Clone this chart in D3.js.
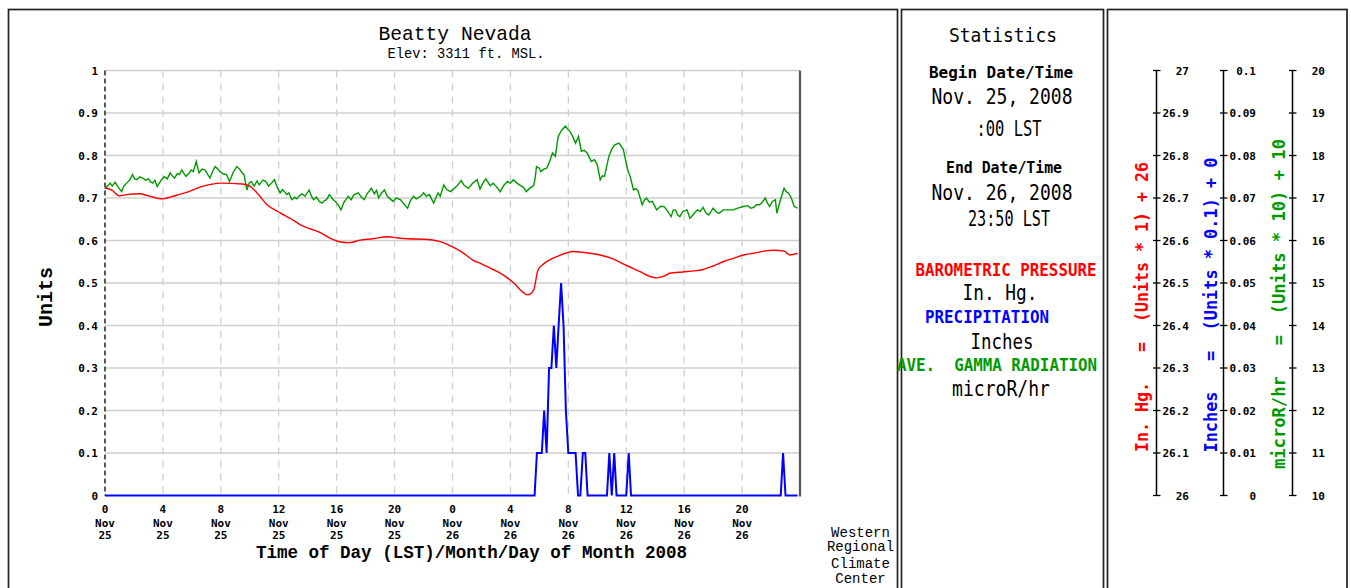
<!DOCTYPE html>
<html><head><meta charset="utf-8">
<script src="https://cdn.jsdelivr.net/npm/d3@7"></script>
<style>html,body{margin:0;padding:0;background:#fff;}svg{display:block;}</style>
</head><body>
<svg id="c" width="1351" height="588"></svg>
<script>
// ---------- DATA ----------
const xTickHours = [0,4,8,12,16,20,24,28,32,36,40,44];
const xTickHourLabels = ["0","4","8","12","16","20","0","4","8","12","16","20"];
const xTickMonthLabels = ["Nov","Nov","Nov","Nov","Nov","Nov","Nov","Nov","Nov","Nov","Nov","Nov"];
const xTickDayLabels = ["25","25","25","25","25","25","26","26","26","26","26","26"];
const yTicks = [0,0.1,0.2,0.3,0.4,0.5,0.6,0.7,0.8,0.9,1];
const yTickLabels = ["0","0.1","0.2","0.3","0.4","0.5","0.6","0.7","0.8","0.9","1"];
const pressureTickLabels = ["26","26.1","26.2","26.3","26.4","26.5","26.6","26.7","26.8","26.9","27"];
const precipTickLabels = ["0","0.01","0.02","0.03","0.04","0.05","0.06","0.07","0.08","0.09","0.1"];
const gammaTickLabels = ["10","11","12","13","14","15","16","17","18","19","20"];

// Barometric pressure, Units (= In. Hg. - 26): [hour since Nov 25 00:00, value]
const pressure = [[0,0.724],[0.5,0.718],[1,0.705],[1.5,0.708],[2.4,0.71],[3,0.705],[4,0.698],[4.5,0.702],[5,0.707],[5.8,0.715],[6.6,0.726],[7.3,0.732],[8,0.735],[9.5,0.733],[10,0.728],[10.5,0.712],[11.2,0.684],[12.1,0.665],[12.8,0.652],[13.5,0.637],[14.2,0.627],[14.9,0.618],[15.5,0.606],[16.2,0.597],[16.9,0.595],[17.6,0.601],[18.5,0.604],[19.5,0.609],[20.2,0.606],[20.9,0.604],[22,0.603],[23.1,0.598],[24,0.585],[24.6,0.574],[25.4,0.554],[26.0,0.545],[26.6,0.535],[27.2,0.525],[27.8,0.512],[28.3,0.498],[28.7,0.483],[29.2,0.472],[29.6,0.483],[29.9,0.53],[30.3,0.545],[30.7,0.554],[31.2,0.562],[31.8,0.57],[32.3,0.574],[32.8,0.573],[33.5,0.57],[34.2,0.566],[35,0.558],[35.6,0.548],[36.1,0.54],[37,0.526],[37.6,0.516],[38.1,0.512],[38.6,0.516],[39,0.523],[39.9,0.526],[40.5,0.528],[41.1,0.53],[42,0.54],[42.7,0.55],[43.4,0.558],[44.1,0.566],[44.8,0.57],[45.5,0.575],[46.2,0.577],[46.9,0.575],[47.3,0.566],[47.83,0.57]];

// Precipitation, Units (= Inches / 0.1)
const precip = [[0,0],[29.67,0],[29.83,0.1],[30.0,0.1],[30.17,0.1],[30.33,0.2],[30.5,0.1],[30.67,0.3],[30.83,0.3],[31.0,0.4],[31.17,0.3],[31.33,0.4],[31.5,0.5],[31.67,0.4],[31.83,0.2],[32.0,0.1],[32.17,0.1],[32.33,0.1],[32.5,0.1],[32.67,0],[32.83,0],[33.0,0.1],[33.17,0.1],[33.33,0],[34.67,0],[34.83,0.1],[35.0,0],[35.17,0.1],[35.33,0],[36.0,0],[36.17,0.1],[36.33,0],[46.67,0],[46.83,0.1],[47.0,0],[47.83,0]];

// Ave. gamma radiation, Units (= (microR/hr - 10) / 10)
const gamma = [[0,0.722],[0.17,0.728],[0.35,0.735],[0.5,0.728],[0.7,0.737],[0.9,0.726],[1.15,0.715],[1.3,0.728],[1.5,0.735],[1.7,0.742],[1.9,0.755],[2.05,0.745],[2.2,0.743],[2.4,0.75],[2.6,0.747],[2.8,0.742],[3.0,0.745],[3.15,0.738],[3.3,0.735],[3.45,0.742],[3.6,0.727],[3.75,0.735],[3.9,0.743],[4.1,0.75],[4.3,0.745],[4.5,0.759],[4.65,0.752],[4.8,0.747],[5.0,0.758],[5.15,0.755],[5.3,0.766],[5.45,0.758],[5.6,0.751],[5.8,0.758],[5.95,0.766],[6.1,0.762],[6.3,0.786],[6.4,0.772],[6.5,0.759],[6.7,0.768],[6.9,0.766],[7.05,0.758],[7.25,0.747],[7.4,0.76],[7.6,0.774],[7.8,0.768],[7.95,0.762],[8.15,0.757],[8.4,0.755],[8.6,0.739],[8.85,0.76],[9.1,0.774],[9.3,0.768],[9.45,0.76],[9.6,0.755],[9.8,0.719],[9.95,0.735],[10.1,0.739],[10.3,0.728],[10.5,0.74],[10.65,0.731],[10.9,0.742],[11.1,0.739],[11.3,0.728],[11.5,0.735],[11.7,0.743],[11.9,0.725],[12.1,0.712],[12.25,0.72],[12.4,0.715],[12.55,0.708],[12.7,0.712],[12.9,0.696],[13.1,0.702],[13.25,0.698],[13.4,0.704],[13.6,0.71],[13.8,0.704],[14.1,0.719],[14.25,0.705],[14.4,0.696],[14.6,0.702],[14.8,0.692],[15.0,0.688],[15.15,0.694],[15.3,0.696],[15.5,0.708],[15.7,0.698],[15.9,0.692],[16.1,0.684],[16.3,0.672],[16.5,0.69],[16.8,0.704],[17.0,0.696],[17.2,0.708],[17.5,0.712],[17.7,0.702],[17.9,0.696],[18.1,0.71],[18.4,0.723],[18.6,0.71],[18.75,0.718],[18.9,0.70],[19.1,0.712],[19.3,0.719],[19.5,0.704],[19.7,0.698],[19.9,0.692],[20.1,0.70],[20.4,0.696],[20.6,0.688],[20.9,0.676],[21.1,0.694],[21.3,0.704],[21.5,0.698],[21.8,0.704],[22.0,0.712],[22.2,0.704],[22.4,0.708],[22.7,0.688],[22.85,0.70],[23.0,0.712],[23.15,0.704],[23.4,0.731],[23.6,0.72],[23.85,0.715],
[24.0,0.719],[24.3,0.728],[24.6,0.741],[24.8,0.73],[25.1,0.723],[25.4,0.735],[25.7,0.743],[25.9,0.721],[26.1,0.735],[26.3,0.745],[26.6,0.729],[26.8,0.735],[27.0,0.728],[27.3,0.715],[27.55,0.73],[27.8,0.739],[28.0,0.735],[28.2,0.743],[28.45,0.735],[28.7,0.729],[28.9,0.725],[29.1,0.715],[29.3,0.722],[29.6,0.729],[29.7,0.745],[29.8,0.774],[30.0,0.77],[30.1,0.762],[30.3,0.768],[30.5,0.77],[30.7,0.785],[30.9,0.806],[31.1,0.798],[31.3,0.845],[31.55,0.86],[31.8,0.869],[31.95,0.862],[32.1,0.857],[32.3,0.845],[32.5,0.829],[32.7,0.845],[32.9,0.81],[33.1,0.812],[33.3,0.806],[33.45,0.795],[33.6,0.786],[33.8,0.79],[34.0,0.778],[34.2,0.743],[34.35,0.752],[34.5,0.751],[34.65,0.775],[34.8,0.798],[35.0,0.815],[35.2,0.825],[35.5,0.829],[35.8,0.814],[35.95,0.79],[36.1,0.766],[36.3,0.747],[36.5,0.719],[36.65,0.722],[36.8,0.718],[37.1,0.684],[37.25,0.695],[37.4,0.700],[37.6,0.69],[37.8,0.692],[38.1,0.672],[38.35,0.68],[38.6,0.68],[38.8,0.672],[39.1,0.656],[39.25,0.672],[39.4,0.672],[39.55,0.66],[39.7,0.656],[39.9,0.668],[40.2,0.672],[40.4,0.652],[40.6,0.66],[40.9,0.672],[41.1,0.668],[41.3,0.678],[41.5,0.665],[41.7,0.660],[42.0,0.676],[42.2,0.668],[42.4,0.664],[42.7,0.672],[43.0,0.672],[43.4,0.672],[43.7,0.676],[44.1,0.68],[44.4,0.682],[44.6,0.676],[44.8,0.678],[45.0,0.684],[45.2,0.684],[45.4,0.69],[45.6,0.70],[45.75,0.688],[45.9,0.68],[46.1,0.692],[46.3,0.696],[46.4,0.664],[46.6,0.69],[46.9,0.723],[47.05,0.715],[47.2,0.712],[47.4,0.70],[47.6,0.68],[47.83,0.676]];

// ---------- DRAW ----------
const svg = d3.select("#c");
const MONO = "'DejaVu Sans Mono', monospace";
const COUR = "'Liberation Mono', 'Courier New', monospace";
const RED = "#ff0000", BLUE = "#0000ff", GREEN = "#009a00";

svg.append("rect").attr("width",1351).attr("height",588).attr("fill","#fff");

function txt(x, y, s, o) {
  o = o || {};
  const t = svg.append("text").attr("x", x).attr("y", y).text(s)
    .attr("font-family", o.family || MONO)
    .attr("font-size", o.size || 12)
    .attr("font-weight", o.weight || "normal")
    .attr("fill", o.fill || "#000")
    .attr("text-anchor", o.anchor || "middle")
    .style("white-space", "pre");
  if (o.width) t.attr("textLength", o.width).attr("lengthAdjust", "spacingAndGlyphs");
  if (o.rotate) t.attr("transform", `rotate(${o.rotate},${x},${y})`);
  return t;
}

// panels
const panels = [[8.5, 897.5], [901.5, 1103.5], [1107.5, 1347]];
panels.forEach(p => svg.append("rect").attr("x", p[0]).attr("y", 9.5)
  .attr("width", p[1] - p[0]).attr("height", 640)
  .attr("fill", "none").attr("stroke", "#222").attr("stroke-width", 1.7));

const x = d3.scaleLinear().domain([0, 48]).range([105, 800]);
const y = d3.scaleLinear().domain([0, 1]).range([495.5, 70.5]);

// grid
const grid = svg.append("g");
grid.selectAll("line.h").data(yTicks.filter(d => d > 0)).join("line")
  .attr("x1", x(0)).attr("x2", x(48)).attr("y1", d => y(d)).attr("y2", d => y(d))
  .attr("stroke", "#cfcfcf").attr("stroke-width", 1.5);
grid.selectAll("line.v").data(xTickHours.filter(d => d > 0)).join("line")
  .attr("x1", d => x(d)).attr("x2", d => x(d)).attr("y1", y(1)).attr("y2", y(0))
  .attr("stroke", "#cfcfcf").attr("stroke-width", 1.3).attr("stroke-dasharray", "7,6");

// plot right edge and left dashed axis
svg.append("line").attr("x1", x(48)).attr("x2", x(48)).attr("y1", y(1)).attr("y2", y(0) + 1)
  .attr("stroke", "#555").attr("stroke-width", 2.2);
svg.append("line").attr("x1", x(0)).attr("x2", x(0)).attr("y1", y(1)).attr("y2", y(0))
  .attr("stroke", "#000").attr("stroke-width", 1.3).attr("stroke-dasharray", "5,3");

// y axis labels via d3 axis
const yAxis = d3.axisLeft(y).tickValues(yTicks).tickSize(0).tickPadding(7)
  .tickFormat((d, i) => yTickLabels[i]);
const ya = svg.append("g").attr("transform", `translate(${x(0)},0)`).call(yAxis);
ya.select(".domain").remove();
ya.selectAll("text").attr("font-family", MONO).attr("font-size", 11).attr("font-weight", "bold").attr("fill", "#000").attr("dy", "0.35em");

// x tick labels
xTickHours.forEach((h, i) => {
  txt(x(h), 513, xTickHourLabels[i], {size: 11, weight: "bold"});
  txt(x(h), 527, xTickMonthLabels[i], {size: 11, weight: "bold"});
  txt(x(h), 539, xTickDayLabels[i], {size: 11, weight: "bold"});
});

// lines
const line = d3.line().x(d => x(d[0])).y(d => y(d[1]));
svg.append("path").datum(gamma).attr("d", line).attr("fill", "none").attr("stroke", GREEN).attr("stroke-width", 1.4);
svg.append("path").datum(pressure).attr("d", line.curve(d3.curveMonotoneX)).attr("fill", "none").attr("stroke", RED).attr("stroke-width", 1.4);
svg.append("path").datum(precip).attr("d", d3.line().x(d => x(d[0])).y(d => y(d[1]))).attr("fill", "none").attr("stroke", BLUE).attr("stroke-width", 2);

// titles
txt(455, 40, "Beatty Nevada", {family: COUR, size: 21, width: 153});
txt(466, 58, "Elev: 3311 ft. MSL.", {family: COUR, size: 14, width: 157});
txt(471.5, 558, "Time of Day (LST)/Month/Day of Month 2008", {family: COUR, size: 18, weight: "bold", width: 431});
txt(52, 297, "Units", {family: COUR, size: 20, weight: "bold", width: 60, rotate: -90});
["Western", "Regional", "Climate", "Center"].forEach((s, i) =>
  txt(860.5, [537, 551, 568, 583][i], s, {family: COUR, size: 14}));

// statistics panel
txt(1003, 42, "Statistics", {size: 20, width: 108});
txt(1001, 78, "Begin Date/Time", {size: 16, weight: "bold", width: 144});
txt(1002, 104, "Nov. 25, 2008", {size: 21, width: 141});
txt(1009, 136, ":00 LST", {size: 21, width: 65});
txt(1004, 173, "End Date/Time", {size: 16, weight: "bold", width: 116});
txt(1002, 200, "Nov. 26, 2008", {size: 21, width: 141});
txt(1009, 226, "23:50 LST", {size: 21, width: 82});
txt(1006, 276, "BAROMETRIC PRESSURE", {size: 17, weight: "bold", fill: RED, width: 181});
txt(1000, 300, "In. Hg.", {size: 21, width: 75});
txt(987, 323, "PRECIPITATION", {size: 17, weight: "bold", fill: BLUE, width: 124});
txt(1002, 349, "Inches", {size: 21, width: 63});
txt(997, 371, "AVE.  GAMMA RADIATION", {size: 17, weight: "bold", fill: GREEN, width: 200});
txt(1001, 396, "microR/hr", {size: 21, width: 98});

// right panel axes
const rightAxes = [
  {lx: 1156.5, labx: 1189, labels: pressureTickLabels, title: "In. Hg.   =  (Units * 1) + 26", tx: 1148, ty: 307, tw: 290, color: RED},
  {lx: 1223.5, labx: 1256, labels: precipTickLabels, title: "Inches   =  (Units * 0.1) + 0", tx: 1217, ty: 305, tw: 295, color: BLUE},
  {lx: 1292.5, labx: 1325, labels: gammaTickLabels, title: "microR/hr   =  (Units * 10) + 10", tx: 1285, ty: 304, tw: 330, color: GREEN}
];
rightAxes.forEach(a => {
  svg.append("line").attr("x1", a.lx).attr("x2", a.lx).attr("y1", y(1)).attr("y2", y(0))
    .attr("stroke", "#000").attr("stroke-width", 1.5);
  svg.selectAll(null).data(yTicks).join("line")
    .attr("x1", a.lx - 3.5).attr("x2", a.lx + 4).attr("y1", d => y(d)).attr("y2", d => y(d))
    .attr("stroke", "#000").attr("stroke-width", 1.3);
  yTicks.forEach((d, i) => txt(a.labx, y(d) + 4, a.labels[i], {size: 11, weight: "bold", anchor: "end"}));
  txt(a.tx, a.ty, a.title, {size: 17, weight: "bold", fill: a.color, width: a.tw, rotate: -90});
});
</script>
</body></html>
